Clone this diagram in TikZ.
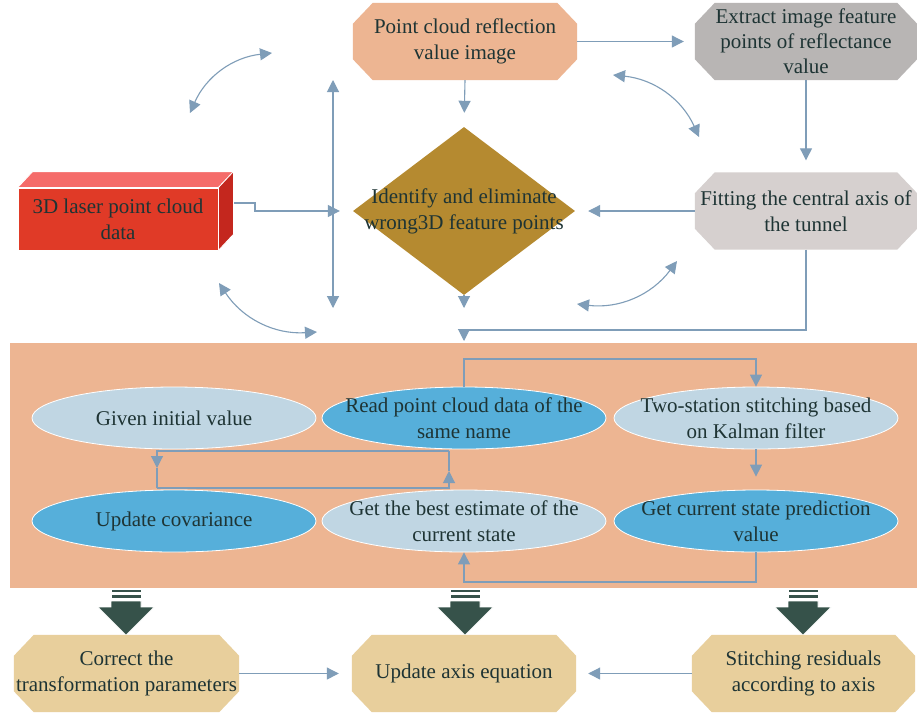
\documentclass[tikz,border=0pt]{standalone}
\usepackage{fontspec}
\setmainfont{Liberation Serif}
\usetikzlibrary{shapes.geometric,arrows.meta}
\definecolor{tc}{RGB}{30,52,52}
\definecolor{ac}{RGB}{127,157,184}
\definecolor{salmon}{RGB}{237,181,146}
\definecolor{greyA}{RGB}{184,181,180}
\definecolor{greyB}{RGB}{214,208,207}
\definecolor{gold}{RGB}{181,138,48}
\definecolor{redF}{RGB}{224,58,39}
\definecolor{redT}{RGB}{245,108,106}
\definecolor{redS}{RGB}{196,39,30}
\definecolor{ellL}{RGB}{192,214,227}
\definecolor{ellD}{RGB}{86,175,218}
\definecolor{sand}{RGB}{232,207,156}
\definecolor{dkg}{RGB}{54,82,74}
\newcommand\octafill[2]{%
  \fill[#2] ([xshift=20pt]#1.north west) -- ([xshift=-20pt]#1.north east) -- ([yshift=-21pt]#1.north east)
    -- ([yshift=21pt]#1.south east) -- ([xshift=-20pt]#1.south east) -- ([xshift=20pt]#1.south west)
    -- ([yshift=21pt]#1.south west) -- ([yshift=-21pt]#1.north west) -- cycle;}
\begin{document}
\begin{tikzpicture}[x=1pt,y=-1pt,
  txt/.style={font=\fontsize{21}{26}\selectfont, text=tc, align=center, inner sep=0pt},
  octa/.style={rectangle, inner sep=0pt, minimum width=224pt, minimum height=77pt},
  ell/.style={ellipse, draw=white, line width=0.8pt, minimum width=284pt, minimum height=62pt, inner sep=0pt},
  arr/.style={draw=ac, line width=1.1pt, -{Triangle[width=12pt,length=12pt]}},
  darr/.style={draw=ac, line width=1.1pt, {Triangle[width=12pt,length=12pt]}-{Triangle[width=12pt,length=12pt]}},
  plain/.style={draw=ac, line width=1.1pt},
  bigarrow/.style={fill=dkg, draw=white, line width=0.6pt}
]
\useasboundingbox (0,0) rectangle (917,716);
\fill[white] (0,0) rectangle (917,716);

% top row
\node[octa] (pc) at (465,41.5) {};
\octafill{pc}{salmon}
\node[txt] (pcT) at (pc) {Point cloud reflection\\value image};
\node[octa, minimum width=222pt] (ext) at (806,41.5) {};
\octafill{ext}{greyA}
\node[txt, font=\fontsize{21}{25}\selectfont] (extT) at (ext) {Extract image feature\\points of reflectance\\value};

% 3D box
\node[draw=white, line width=0.8pt, fill=redF, minimum width=200pt, minimum height=62pt, inner sep=0pt] (laser) at (118,219) {};
\fill[redT, draw=white, line width=0.8pt] (laser.north west) -- ([shift={(15,-16)}]laser.north west) -- ([shift={(15,-16)}]laser.north east) -- (laser.north east) -- cycle;
\fill[redS, draw=white, line width=0.8pt] (laser.north east) -- ([shift={(15,-16)}]laser.north east) -- ([shift={(15,-16)}]laser.south east) -- (laser.south east) -- cycle;
\node[txt] (laserT) at (laser) {3D laser point cloud\\data};

% diamond
\node[diamond, fill=gold, minimum width=222pt, minimum height=168pt, inner sep=0pt] (diam) at (464,211) {};
\node[txt] (diamT) at (diam) {Identify and eliminate\\wrong3D feature points};

\node[octa, minimum width=222pt] (fit) at (806,211) {};
\octafill{fit}{greyB}
\node[txt] (fitT) at (fit) {Fitting the central axis of\\the tunnel};

% top connectors
\draw[arr, shorten >=11pt] (pc.east) -- (ext.west);
\draw[arr, shorten >=12pt] (ext.south) -- (fit.north);
\draw[arr, shorten >=13pt] (fit.west) -- (diam.east);
\draw[arr, shorten >=14pt] (pc.south) -- (diam.north);
\coordinate (l1) at (234,203);
\coordinate (l2) at (255,203);
\coordinate (l3) at (255,211);
\draw[arr, shorten >=13pt] (l1) -- (l2) -- (l3) -- (diam.west);
\coordinate (v1) at (333,80);
\coordinate (v2) at (333,308);
\draw[darr] (v1) -- (v2);
\coordinate (dbot) at (464,308);
\draw[arr] (diam.south) -- (dbot);
\coordinate (pbend) at (464,330);
\coordinate (pin) at (464,341);

% curved double arrows
\coordinate (c1a) at (190,113); \coordinate (c1b) at (272,53);
\coordinate (c2a) at (219,283); \coordinate (c2b) at (317,332);
\coordinate (c3a) at (613,75);  \coordinate (c3b) at (699,137);
\coordinate (c4a) at (677,261); \coordinate (c4b) at (577,304);
\draw[darr] (c1a) to[bend left=30] (c1b);
\draw[darr] (c2a) to[bend right=30] (c2b);
\draw[darr] (c3a) to[bend left=30] (c3b);
\draw[darr] (c4a) to[bend left=30] (c4b);

% panel
\node[fill=salmon, minimum width=907pt, minimum height=245pt, inner sep=0pt] (panel) at (463.5,465.5) {};
\draw[arr] (fit.south) |- (pbend) -- (pin);

\node[ell, fill=ellL] (given) at (174,418) {};
\node[txt] (givenT) at (given) {Given initial value};
\node[ell, fill=ellD] (read) at (464,418) {};
\node[txt] (readT) at (read) {Read point cloud data of the\\same name};
\node[ell, fill=ellL] (two) at (756,418) {};
\node[txt] (twoT) at (two) {Two-station stitching based\\on Kalman filter};
\node[ell, fill=ellD] (upd) at (174,521) {};
\node[txt] (updT) at (upd) {Update covariance};
\node[ell, fill=ellL] (best) at (464,521) {};
\node[txt] (bestT) at (best) {Get the best estimate of the\\current state};
\node[ell, fill=ellD] (cur) at (756,521) {};
\node[txt] (curT) at (cur) {Get current state prediction\\value};

\coordinate (rt) at (464,359);
\draw[arr] (read.north) -- (rt) -| (two.north);
\draw[arr, shorten >=13pt] (two.south) -- (cur.north);
\coordinate (rb) at (756,582);
\coordinate (rb2) at (464,582);
\draw[arr] (cur.south) -- (rb) -- (rb2) -- (best.south);
\coordinate (r1) at (157,451);
\coordinate (r2) at (449,451);
\coordinate (r3) at (157,488);
\coordinate (r4) at (449,488);
\coordinate (ra) at (157,468);
\coordinate (rbb) at (449,471);
\draw[arr] (r2) -- (r1) -- (ra);
\draw[plain] (ra) -- (r3);
\draw[arr] (r3) -- (r4) -- (rbb);
\draw[plain] (rbb) -- (r2);

% big arrows
\foreach \cx in {126,465,803} {
  \fill[dkg, draw=white, line width=0.5pt] (\cx-15,589) rectangle (\cx+15,592.5);
  \fill[dkg, draw=white, line width=0.5pt] (\cx-15,594.5) rectangle (\cx+15,598.5);
  \path[bigarrow] (\cx-15,601) -- (\cx+15,601) -- (\cx+15,607) -- (\cx+28,607) -- (\cx,635) -- (\cx-28,607) -- (\cx-15,607) -- cycle;
}

% bottom row
\node[octa, minimum width=225pt] (corr) at (126.5,673.5) {};
\octafill{corr}{sand}
\node[txt] (corrT) at (corr) {Correct the\\transformation parameters};
\node[octa] (updax) at (464,673.5) {};
\octafill{updax}{sand}
\node[txt] (updaxT) at (updax) {Update axis equation};
\node[octa, minimum width=223pt] (stit) at (803.5,673.5) {};
\octafill{stit}{sand}
\node[txt] (stitT) at (stit) {Stitching residuals\\according to axis};
\draw[arr, shorten >=13pt] (corr.east) -- (updax.west);
\draw[arr, shorten >=12pt] (stit.west) -- (updax.east);
\end{tikzpicture}
\end{document}
